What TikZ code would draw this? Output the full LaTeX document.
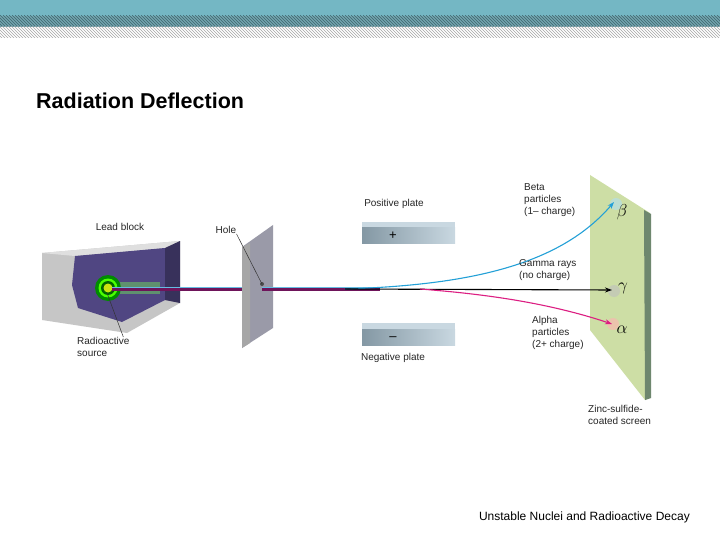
\documentclass[tikz,border=0pt]{standalone}
\usepackage{fontspec}
\setmainfont{Liberation Sans}
\usetikzlibrary{patterns,arrows.meta}
\definecolor{teal1}{RGB}{116,183,196}
\definecolor{purp}{RGB}{80,70,130}
\definecolor{beamp}{RGB}{110,20,90}
\definecolor{betac}{RGB}{35,160,215}
\definecolor{alphac}{RGB}{220,30,130}
\definecolor{scr}{RGB}{205,222,165}
\definecolor{scrside}{RGB}{110,135,110}
\definecolor{plate}{RGB}{165,190,205}
\begin{document}
\begin{tikzpicture}[x=1pt,y=-1pt,
  lab/.style={font=\fontsize{10}{12}\selectfont, align=left, inner sep=0pt, text=black!85},
  greek/.style={font=\fontsize{18}{18}\selectfont, inner sep=0pt},
  ptr/.style={black!80, line width=0.5pt},
  ray/.style={line width=1.1pt, -{Stealth[length=7pt,width=5pt]}}]
\useasboundingbox (0,0) rectangle (720,540);
\fill[white] (0,0) rectangle (720,540);
% header
\fill[teal1] (0,0) rectangle (720,16);
\fill[teal1!85!black!90] (0,16) rectangle (720,27);
\fill[pattern=north west lines, pattern color=teal1!55!black] (0,16) rectangle (720,27);
\fill[pattern=north west lines, pattern color=gray!70] (0,27) rectangle (720,38);
\node[anchor=base west, font=\bfseries\fontsize{21.5}{24}\selectfont, inner sep=0pt] (title) at (36,109) {Radiation Deflection};
\node[anchor=base east, font=\fontsize{12}{14}\selectfont, inner sep=0pt] (foot) at (690,520) {Unstable Nuclei and Radioactive Decay};
% lead block
\fill[gray!45] (42,253) -- (180,241) -- (180,303) -- (127,333) -- (42,320) -- cycle;
\fill[gray!25] (42,253) -- (180,241) -- (165,248) -- (75,256) -- cycle;
\fill[purp] (75,256) -- (165,248) -- (165,300) -- (122,322) -- (78,308) -- (72,285) -- cycle;
\fill[purp!70!black] (165,248) -- (180,241) -- (180,303) -- (165,300) -- cycle;
% source
\fill[green!50!black!60, opacity=0.7] (108,282) rectangle (160,294);
\fill[green!55!black] (108,288) circle (13);
\fill[green!70!yellow] (108,288) circle (9.5);
\fill[green!40!black] (108,288) circle (7);
\fill[yellow!80!green] (108,288) circle (4.5);
% beam
\draw[beamp, line width=3pt] (112,289.5) -- (380,289.5);
\draw[betac!70, line width=0.7pt] (112,287.6) -- (380,287.6);
% hole plate
\fill[gray!60!blue!20!white!70!black] (242,247) -- (273,225) -- (273,328) -- (242,348) -- cycle;
\fill[gray!70] (242,247) -- (250,243) -- (250,343) -- (242,348) -- cycle;
\fill[gray!60!black] (262,284) circle (2);
\draw[beamp, line width=3pt] (262,289.5) -- (380,289.5);
\draw[betac!70, line width=0.7pt] (262,287.6) -- (380,287.6);
% plates
\fill[plate!60!white] (362,222) -- (455,222) -- (455,228) -- (362,228) -- cycle;
\shade[left color=plate!80!black, right color=plate!60!white] (362,228) rectangle (455,243);
\node[font=\fontsize{13}{13}\selectfont] (plus) at (393,236) {+};
\fill[plate!60!white] (362,323) -- (455,323) -- (455,329) -- (362,329) -- cycle;
\shade[left color=plate!80!black, right color=plate!60!white] (362,329) rectangle (455,345);
\node[font=\fontsize{13}{13}\selectfont] (minus) at (393,339) {--};
% screen
\fill[scr] (590,175) -- (650,213) -- (650,398) -- (645,400) -- (590,330) -- cycle;
\fill[scrside] (644,210) -- (651,214) -- (651,398) -- (645,400) -- cycle;
\fill[betac!35, opacity=0.6] (616,204) circle (6);
\fill[gray!50, opacity=0.6] (614,291) circle (6);
\fill[red!30, opacity=0.6] (613,324) circle (6);
% rays
\coordinate (start) at (345,289);
\coordinate (bend) at (420,289);
\coordinate (bhit) at (614,202);
\coordinate (ghit) at (612,290);
\coordinate (ahit) at (612,324);
\draw[ray, betac] (start) .. controls (470,285) and (560,265) .. (bhit);
\draw[ray, black] (start) -- (ghit);
\draw[ray, alphac] (bend) .. controls (470,293) and (540,300) .. (ahit);
\node[greek] (beta) at (622,212) {$\beta$};
\node[greek] (gamma) at (623,288) {$\gamma$};
\node[greek] (alpha) at (622,330) {$\alpha$};
% labels
\node[lab, anchor=north west] (lbeta) at (524,183) {Beta\\particles\\(1-- charge)};
\node[lab, anchor=north west] (lgam) at (519,259) {Gamma rays\\(no charge)};
\node[lab, anchor=north west] (lalp) at (532,316) {Alpha\\particles\\(2+ charge)};
\node[lab, anchor=north west] (lscr) at (588,405) {Zinc-sulfide-\\coated screen};
\node[lab] (lpos) at (394,204) {Positive plate};
\node[lab] (lneg) at (393,358) {Negative plate};
\node[lab] (llead) at (120,227) {Lead block};
\node[lab] (lhole) at (226,230) {Hole};
\node[lab, anchor=north west] (lsrc) at (77,337) {Radioactive\\source};
\draw[ptr] (lhole.south east) -- (262,284);
\draw[ptr] (lsrc.north) ++(20,0) -- (107,293);
\end{tikzpicture}
\end{document}
